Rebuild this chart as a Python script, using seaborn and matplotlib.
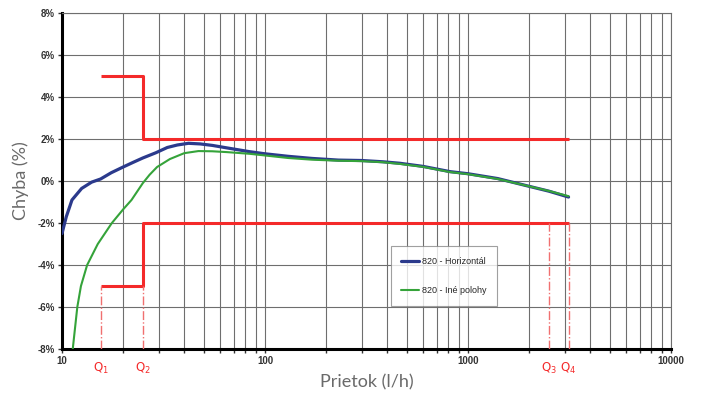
import numpy as np
import pandas as pd
import matplotlib.pyplot as plt
import matplotlib.ticker as mticker
import matplotlib.transforms as mtransforms
from matplotlib.lines import Line2D
import seaborn as sns

# Datos (prietok en l/h, chyba en %)
horiz_q = [10, 10.5, 11.2, 12.5, 14, 15.5, 17.5, 20, 22.5, 25, 29, 33, 37, 42, 48, 55, 65, 84,
           100, 130, 170, 230, 300, 380, 460, 600, 815, 1000, 1400, 2000, 2500, 3125]
horiz_err = [-2.5, -1.7, -0.9, -0.35, -0.05, 0.1, 0.4, 0.67, 0.9, 1.1, 1.35, 1.6, 1.72, 1.8, 1.77, 1.7, 1.58, 1.4,
             1.3, 1.18, 1.08, 1.0, 0.98, 0.92, 0.85, 0.7, 0.45, 0.35, 0.12, -0.25, -0.48, -0.76]

ine_q = [11.3, 11.9, 12.4, 13.3, 15, 17.6, 20, 22, 25, 27, 29.4, 34, 40, 47, 55, 65, 84,
         100, 130, 170, 230, 300, 380, 460, 600, 815, 1000, 1400, 2000, 2500, 3125]
ine_err = [-8.0, -6.0, -5.0, -4.0, -3.0, -2.0, -1.35, -0.9, -0.1, 0.3, 0.67, 1.05, 1.33, 1.43, 1.42, 1.38, 1.3,
           1.22, 1.1, 1.02, 0.97, 0.95, 0.9, 0.82, 0.68, 0.43, 0.33, 0.1, -0.25, -0.47, -0.72]

# Hranice chyby (Q1..Q4)
q_points = [15.625, 25, 2500, 3125]
q_labels = ['Q$_1$', 'Q$_2$', 'Q$_3$', 'Q$_4$']
q_low = [-5, -5, -2, -2]
limit_q = [15.625, 25, 25, 3125]
limit_upper = [5, 5, 2, 2]
limit_lower = [-5, -5, -2, -2]

y_ticks = [-8, -6, -4, -2, 0, 2, 4, 6, 8]
x_ticks = [10, 100, 1000, 10000]

sns.set_theme(style="white")
plt.rcParams['font.family'] = ['Liberation Sans', 'DejaVu Sans']

df = pd.concat([
    pd.DataFrame({'q': horiz_q, 'err': horiz_err, 'serie': '820 - Horizontál'}),
    pd.DataFrame({'q': ine_q, 'err': ine_err, 'serie': '820 - Iné polohy'}),
], ignore_index=True)

fig = plt.figure(figsize=(7.01, 3.98), dpi=100)
ax = fig.add_axes([0.0884, 0.123, 0.869, 0.844])

colores = {'820 - Horizontál': '#2B3A8C', '820 - Iné polohy': '#35A33A'}
sns.lineplot(data=df, x='q', y='err', hue='serie', palette=colores, ax=ax,
             linewidth=1.5, legend=False, zorder=4)
ax.lines[0].set_linewidth(2.3)

# Limity
red = '#F42A2A'
ax.plot(limit_q, limit_upper, color=red, lw=2.2, zorder=3, solid_capstyle='butt')
ax.plot(limit_q, limit_lower, color=red, lw=2.2, zorder=3, solid_capstyle='butt')
ax.vlines(q_points, [-8] * 4, q_low, colors='#F07070', linestyles='-.', lw=1.0, zorder=3)

ax.set_xscale('log')
ax.set_xlim(10, 10000)
ax.set_ylim(-8, 8)
ax.set_xticks(x_ticks)
ax.set_xticklabels(['10', '100', '1000', '10000'])
ax.set_yticks(y_ticks)
ax.set_yticklabels([f'{v}%' for v in y_ticks])
ax.xaxis.set_minor_locator(mticker.LogLocator(base=10, subs=np.arange(2, 10)))
ax.xaxis.set_minor_formatter(mticker.NullFormatter())

ax.grid(True, which='both', axis='x', color='#6e6e6e', lw=0.8)
ax.grid(True, which='major', axis='y', color='#6e6e6e', lw=0.8)
ax.tick_params(axis='both', which='both', labelsize=7, colors='#333333', length=3, width=1,
               direction='out', left=True, bottom=True, pad=2)
for lab in ax.get_xticklabels() + ax.get_yticklabels():
    lab.set_fontweight('bold')

for s in ['top', 'right']:
    ax.spines[s].set_color('#6e6e6e')
    ax.spines[s].set_linewidth(0.8)
for s in ['left', 'bottom']:
    ax.spines[s].set_color('black')
    ax.spines[s].set_linewidth(2.2)

# Popisky Q
trans = mtransforms.blended_transform_factory(ax.transData, ax.transAxes)
for q, lab in zip(q_points, q_labels):
    ax.text(q, -0.035, lab, transform=trans, color=red, fontsize=8.5, ha='center', va='top',
            family=['DejaVu Sans'])

ax.set_xlabel('Prietok (l/h)', fontsize=13, color='#6a6a6a', family=['Lato', 'DejaVu Sans'],
              labelpad=6)
ax.set_ylabel('Chyba (%)', fontsize=13, color='#6a6a6a', family=['Lato', 'DejaVu Sans'],
              labelpad=6)

handles = [Line2D([], [], color=colores['820 - Horizontál'], lw=2.3),
           Line2D([], [], color=colores['820 - Iné polohy'], lw=1.5)]
leg = ax.legend(handles, list(colores.keys()), loc='lower left', bbox_to_anchor=(0.532, 0.116),
                fontsize=6.5, frameon=True, fancybox=False, handlelength=2.0, labelspacing=2.2,
                borderpad=1.2, handletextpad=0.3)
leg.get_frame().set_edgecolor('#888888')
leg.get_frame().set_linewidth(0.8)
leg.set_zorder(5)

plt.savefig('out.png', dpi=100)
